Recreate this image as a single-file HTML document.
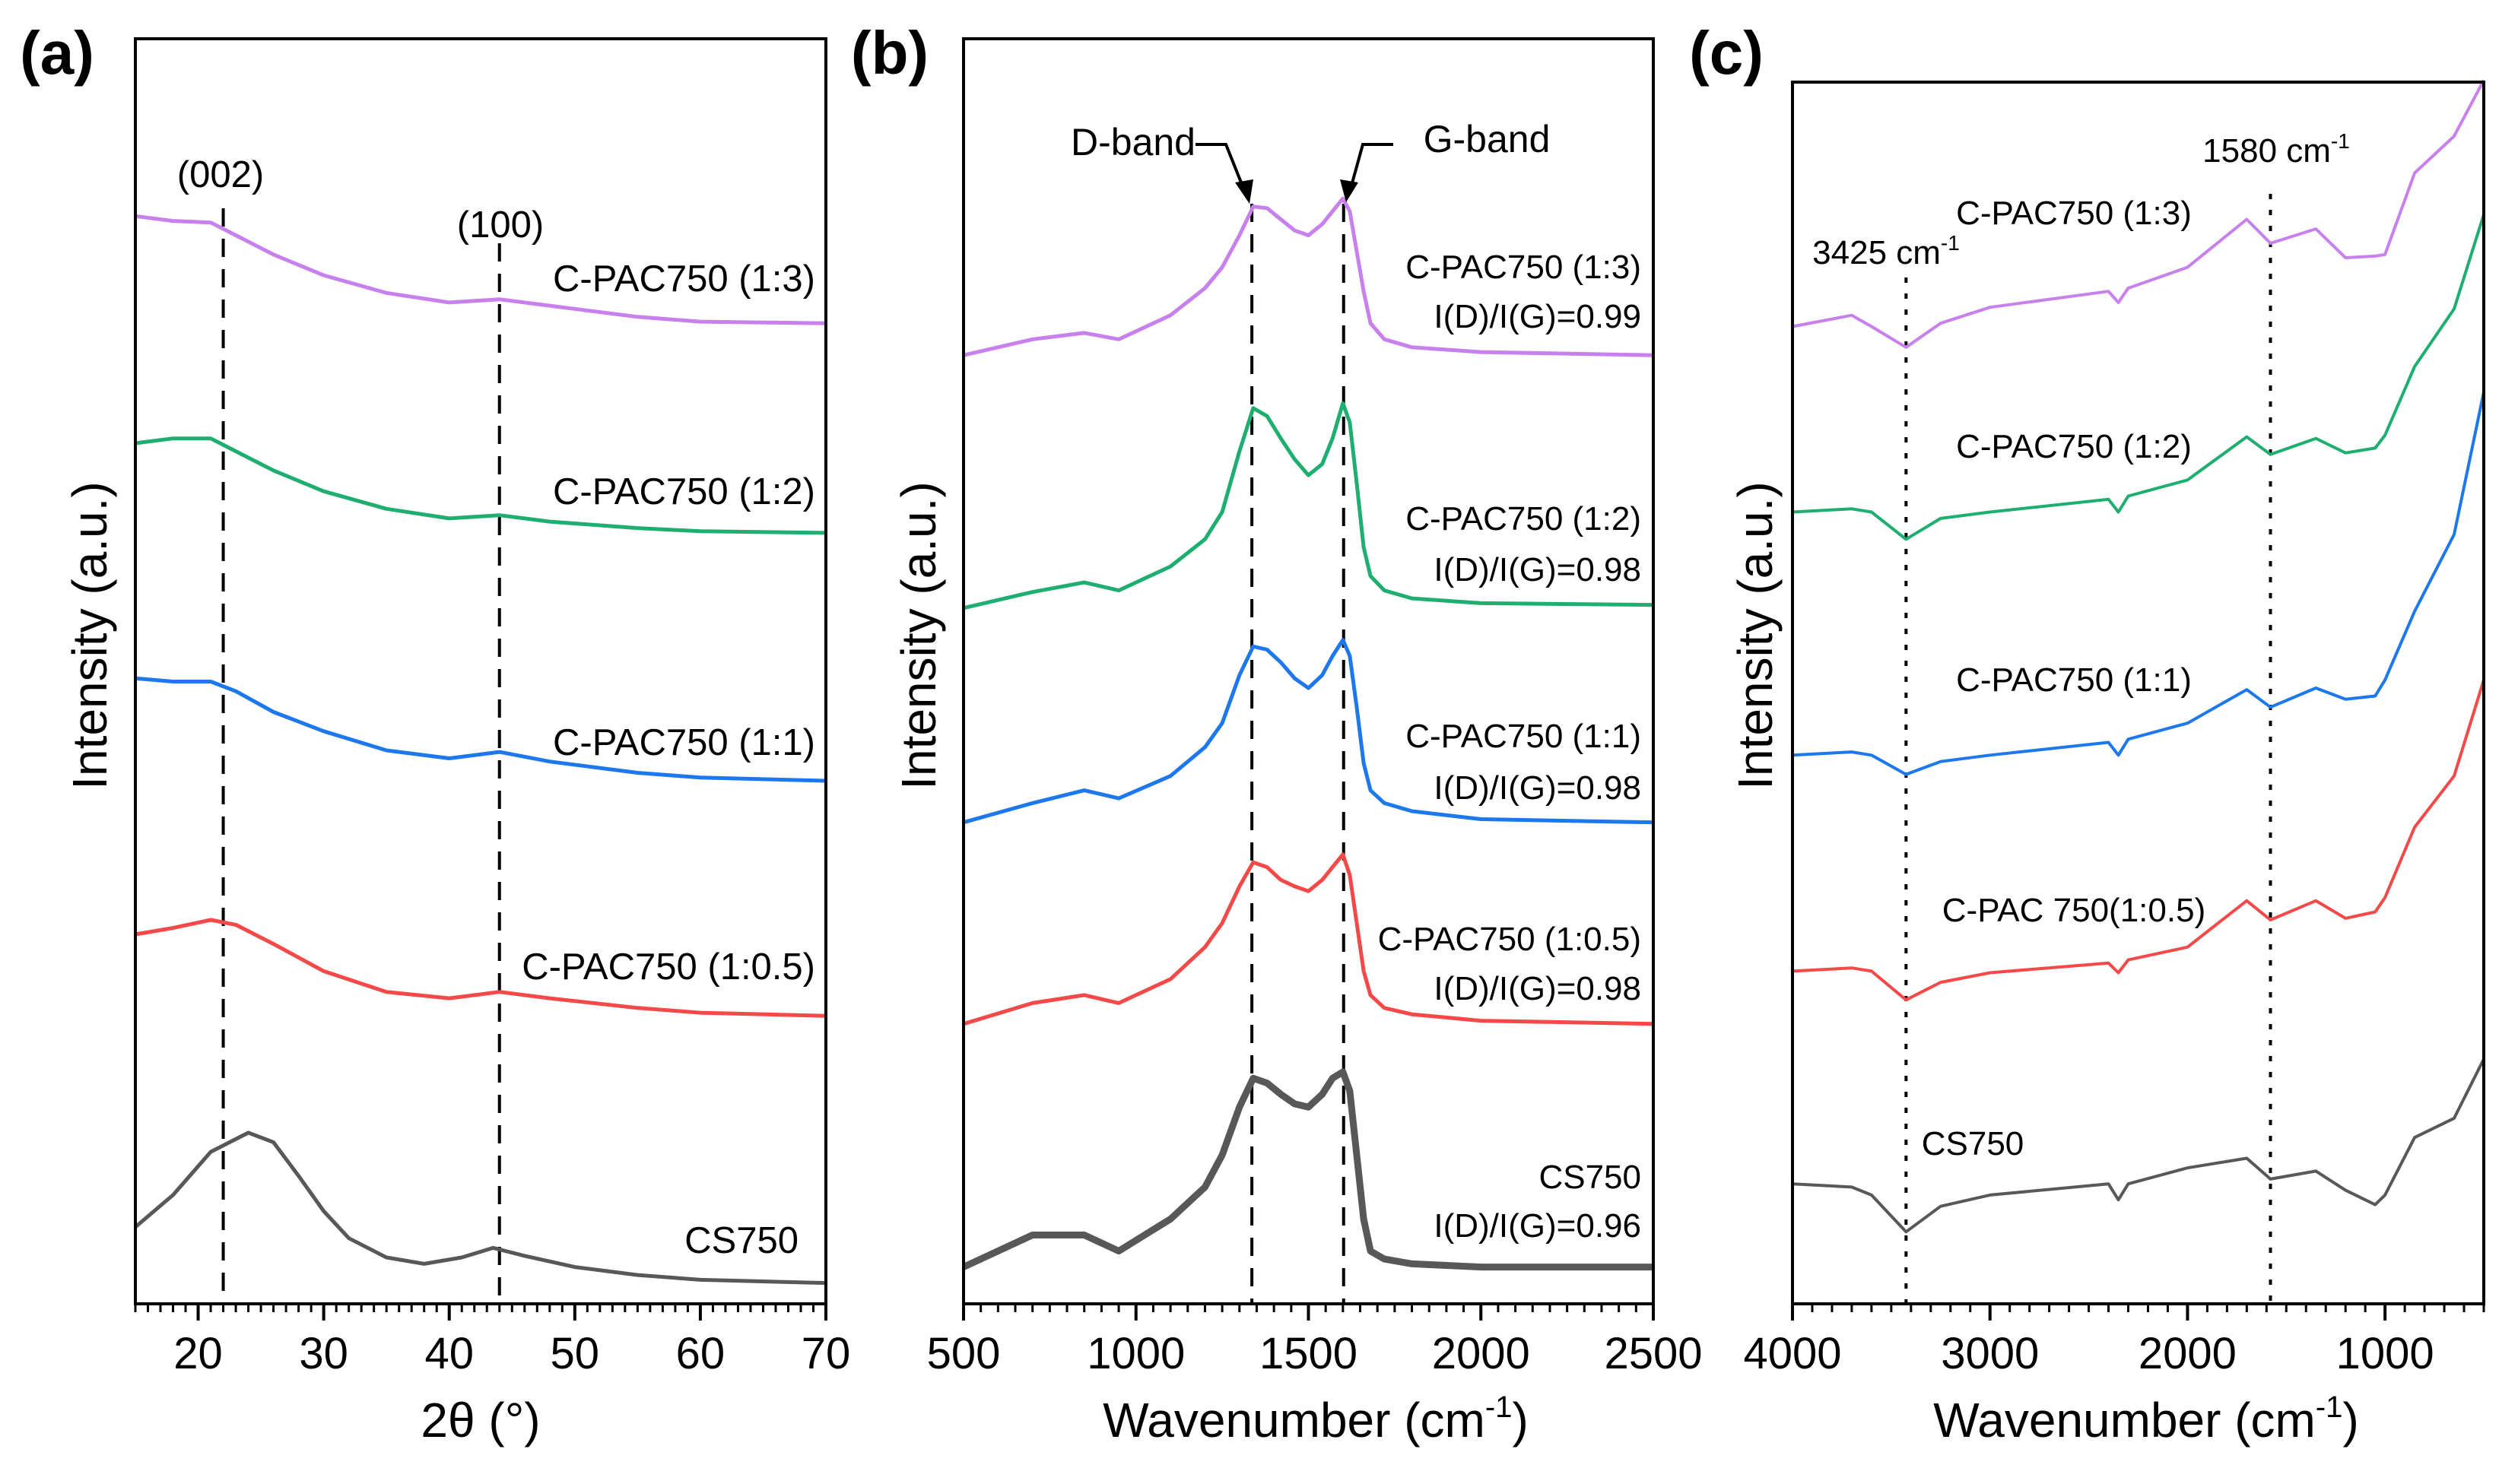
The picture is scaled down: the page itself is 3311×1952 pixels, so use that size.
<!DOCTYPE html>
<html><head><meta charset="utf-8"><style>
html,body{margin:0;padding:0;background:#fff;}
svg{display:block;font-family:"Liberation Sans",Arial,sans-serif;}
</style></head><body>
<svg id="fig" width="3311" height="1952" viewBox="0 0 3311 1952" xmlns="http://www.w3.org/2000/svg"></svg>
<script>
// ---------- Panel (a) XRD data ----------
const aCsX = [15,18,21,24,26,28,30,32,35,38,41,43.5,46,50,55,60,70];
const aCsY = [48,68,95,107,101,80,58,41,29,25,29,35,30,23,18,15,13];
const aX = [15,18,21,23,26,30,35,40,44,48,55,60,70];
const aRed = [231,235,240,237,225,208,195,191,195,191,185,182,180];
const aBlue = [391,389,389,383,370,358,346,341,345,339,332,329,327];
const aGreen = [538,541,541,533,521,508,497,491,493,489,485,483,482];
const aPurple = [680,677,676,668,656,643,632,626,628,624,617,614,613];
const aTicks = [20,30,40,50,60,70];
// ---------- Panel (b) Raman data ----------
const bX = [500,700,850,950,1100,1200,1250,1300,1340,1380,1420,1460,1500,1540,1570,1600,1620,1640,1660,1680,1720,1800,2000,2500];
const bGray = [23,43,43,33,53,73,93,123,141,138,131,125,123,131,141,145,133,93,53,33,28,25,23,23];
const bRed = [175,188,193,188,203,223,238,261,276,273,265,261,258,265,273,281,268,238,208,193,185,181,177,175];
const bBlue = [301,313,321,316,330,348,363,393,411,409,401,391,385,393,405,415,405,373,338,321,313,308,303,301];
const bGreen = [435,445,451,446,461,478,495,533,560,555,541,528,518,525,541,563,551,513,473,455,446,441,438,437];
const bPurple = [593,603,607,603,618,635,648,668,686,685,678,671,668,675,683,691,683,658,633,613,603,598,595,593];
const bTicks = [500,1000,1500,2000,2500];
// ---------- Panel (c) FTIR data ----------
const cX = [4000,3700,3600,3425,3250,3000,2400,2350,2300,2000,1700,1580,1350,1200,1050,1000,850,650,500];
const cGray = [75,73,68,45,61,68,75,65,75,85,91,78,83,71,62,68,104,116,153];
const cRed = [208,210,208,190,201,207,213,207,215,223,252,240,252,241,245,254,298,330,390];
const cBlue = [343,345,343,331,339,343,351,343,353,363,384,373,385,378,380,390,433,481,570];
const cGreen = [495,497,495,478,491,495,503,495,505,515,542,531,541,532,535,543,586,622,681];
const cPurple = [611,618,611,598,613,623,633,626,635,648,678,663,672,654,655,656,707,730,765];
const cTicks = [4000,3000,2000,1000];

const NS="http://www.w3.org/2000/svg";
const svg=document.getElementById('fig');
function el(tag,attrs,parent){const e=document.createElementNS(NS,tag);for(const k in attrs)e.setAttribute(k,attrs[k]);(parent||svg).appendChild(e);return e;}
function txt(s,x,y,size,anchor,parent,weight){const t=el('text',{x:x,y:y,'font-size':size,'text-anchor':anchor||'middle',fill:'#000'},parent);if(weight)t.setAttribute('font-weight',weight);t.textContent=s;return t;}

const BOT=1715, UNIT=2.104;
function yS(v){return BOT-v*UNIT;}
function mkX(d0,d1,p0,p1){return v=>p0+(v-d0)/(d1-d0)*(p1-p0);}
const xa=mkX(15,70,178,1086), xb=mkX(500,2500,1267,2174), xc=mkX(4000,500,2357,3266);

function line(xs,ys,xf,color,w,name){
  let d='';xs.forEach((x,i)=>{d+=(i?'L':'M')+xf(x).toFixed(1)+','+yS(ys[i]).toFixed(1);});
  const p=el('path',{d:d,fill:'none',stroke:color,'stroke-width':w,'stroke-linejoin':'round'});
  
  
}
function frame(x0,x1,top,name){
  const r=el('rect',{x:x0,y:top,width:x1-x0,height:BOT-top,fill:'none',stroke:'#000','stroke-width':4});
  
  
}
function ticks(xf,from,to,step,majors,g){
  const n=Math.round(Math.abs(to-from)/step);
  for(let i=0;i<=n;i++){const v=from+Math.sign(to-from)*i*step;const isM=majors.some(m=>Math.abs(m-v)<1e-6);
    el('line',{x1:xf(v),x2:xf(v),y1:BOT,y2:BOT+(isM?22:11),stroke:'#000','stroke-width':isM?4:3},g);}
  majors.forEach(m=>{const t=txt(String(m),xf(m),1800,58,'middle',g);
    
    });
}
function vline(x,top,dash,name){
  const l=el('line',{x1:x,x2:x,y1:top,y2:BOT,stroke:'#000','stroke-width':4,'stroke-dasharray':dash});
  
  
}
function ytitle(x,y,name){
  const t=txt('Intensity (a.u.)',0,0,64,'middle');
  t.setAttribute('transform','translate('+x+','+y+') rotate(-90)');
  
  
}
function label(s,x,y,anchor,name,size){const t=txt(s,x,y,size||44,anchor);
  
  return t;}
function cm(x,y,base,name){
  const t=el('text',{x:x,y:y,'font-size':44,'text-anchor':'middle',fill:'#000'});
  
  
  t.appendChild(document.createTextNode(base+' cm'));
  const s=el('tspan',{'font-size':28,dy:-18},t);s.textContent='-1';
}

const COL={gray:'#585858',red:'#f54848',blue:'#1c78ec',green:'#1eae70',purple:'#c880ec'};

// ===== Panel a =====
const ga=el('g',{});
vline(xa(22),274,'24 16','dashed-line-002');
vline(xa(44),320,'24 16','dashed-line-100');
line(aCsX,aCsY,xa,COL.gray,5,'series-cs750');
line(aX,aRed,xa,COL.red,5,'series-1-0.5');
line(aX,aBlue,xa,COL.blue,5,'series-1-1');
line(aX,aGreen,xa,COL.green,5,'series-1-2');
line(aX,aPurple,xa,COL.purple,5,'series-1-3');
frame(178,1086,51,'plot-frame-a');
ticks(xa,15,70,1,aTicks,ga);
label('(002)',290,246,'middle','label-002',49);
label('(100)',658,312,'middle','label-100',49);
label('C-PAC750 (1:3)',1072,383,'end','label-a-1-3',49);
label('C-PAC750 (1:2)',1072,663,'end','label-a-1-2',49);
label('C-PAC750 (1:1)',1072,993,'end','label-a-1-1',49);
label('C-PAC750 (1:0.5)',1072,1288,'end','label-a-1-0.5',49);
label('CS750',1050,1648,'end','label-a-cs750',49);
ytitle(140,836,'y-axis-title-a');
(function(){const t=el('text',{x:632,y:1890,'font-size':64,'text-anchor':'middle',fill:'#000'});t.textContent='2θ (°)';

})();
(function(){const t=txt('(a)',75,97,80,'middle',null,'bold');

})();

// ===== Panel b =====
const gb=el('g',{});
vline(xb(1336),268,'24 16','dashed-line-d-band');
vline(xb(1602),268,'24 16','dashed-line-g-band');
line(bX,bGray,xb,COL.gray,9,'series-cs750-raman');
line(bX,bRed,xb,COL.red,5,'series-1-0.5-raman');
line(bX,bBlue,xb,COL.blue,5,'series-1-1-raman');
line(bX,bGreen,xb,COL.green,5,'series-1-2-raman');
line(bX,bPurple,xb,COL.purple,5,'series-1-3-raman');
frame(1267,2174,51,'plot-frame-b');
ticks(xb,500,2500,50,bTicks,gb);
label('D-band',1490,204,'middle','d-band-label',50);
label('G-band',1955,200,'middle','g-band-label',50);
(function(){
  const dA=el('path',{d:'M1572,190 L1612,190 L1636,250',fill:'none',stroke:'#000','stroke-width':4});
  
  
  const dH=el('polygon',{points:'1643,268 1624,240 1648,236',fill:'#000'});
  
  
  const gA=el('path',{d:'M1832,190 L1792,190 L1776,248',fill:'none',stroke:'#000','stroke-width':4});
  
  
  const gH=el('polygon',{points:'1770,266 1762,236 1786,240',fill:'#000'});
  
  
})();
label('C-PAC750 (1:3)',2158,366,'end','label-b-1-3');
label('I(D)/I(G)=0.99',2158,431,'end','ratio-b-1-3');
label('C-PAC750 (1:2)',2158,697,'end','label-b-1-2');
label('I(D)/I(G)=0.98',2158,764,'end','ratio-b-1-2');
label('C-PAC750 (1:1)',2158,983,'end','label-b-1-1');
label('I(D)/I(G)=0.98',2158,1051,'end','ratio-b-1-1');
label('C-PAC750 (1:0.5)',2158,1250,'end','label-b-1-0.5');
label('I(D)/I(G)=0.98',2158,1315,'end','ratio-b-1-0.5');
label('CS750',2158,1563,'end','label-b-cs750');
label('I(D)/I(G)=0.96',2158,1627,'end','ratio-b-cs750');
ytitle(1230,836,'y-axis-title-b');
(function(){const t=el('text',{x:1730,y:1890,'font-size':64,'text-anchor':'middle',fill:'#000'});


t.appendChild(document.createTextNode('Wavenumber (cm'));
const s=el('tspan',{'font-size':40,dy:-26},t);s.textContent='-1';
const s2=el('tspan',{dy:26},t);s2.textContent=')';})();
(function(){const t=txt('(b)',1170,97,80,'middle',null,'bold');

})();

// ===== Panel c =====
const gc=el('g',{});
vline(xc(3425),365,'7 14','dotted-line-3425');
vline(xc(1580),255,'7 14','dotted-line-1580');
line(cX,cGray,xc,COL.gray,4,'series-cs750-ftir');
line(cX,cRed,xc,COL.red,4,'series-1-0.5-ftir');
line(cX,cBlue,xc,COL.blue,4,'series-1-1-ftir');
line(cX,cGreen,xc,COL.green,4,'series-1-2-ftir');
line(cX,cPurple,xc,COL.purple,4,'series-1-3-ftir');
frame(2357,3266,108,'plot-frame-c');
ticks(xc,4000,500,100,cTicks,gc);
cm(2993,213,'1580','label-1580');
cm(2480,347,'3425','label-3425');
label('C-PAC750 (1:3)',2727,295,'middle','label-c-1-3');
label('C-PAC750 (1:2)',2727,602,'middle','label-c-1-2');
label('C-PAC750 (1:1)',2727,909,'middle','label-c-1-1');
label('C-PAC 750(1:0.5)',2727,1212,'middle','label-c-1-0.5');
label('CS750',2594,1519,'middle','label-c-cs750');
ytitle(2330,836,'y-axis-title-c');
(function(){const t=el('text',{x:2822,y:1890,'font-size':64,'text-anchor':'middle',fill:'#000'});


t.appendChild(document.createTextNode('Wavenumber (cm'));
const s=el('tspan',{'font-size':40,dy:-26},t);s.textContent='-1';
const s2=el('tspan',{dy:26},t);s2.textContent=')';})();
(function(){const t=txt('(c)',2270,97,80,'middle',null,'bold');

})();
</script>
</body></html>
